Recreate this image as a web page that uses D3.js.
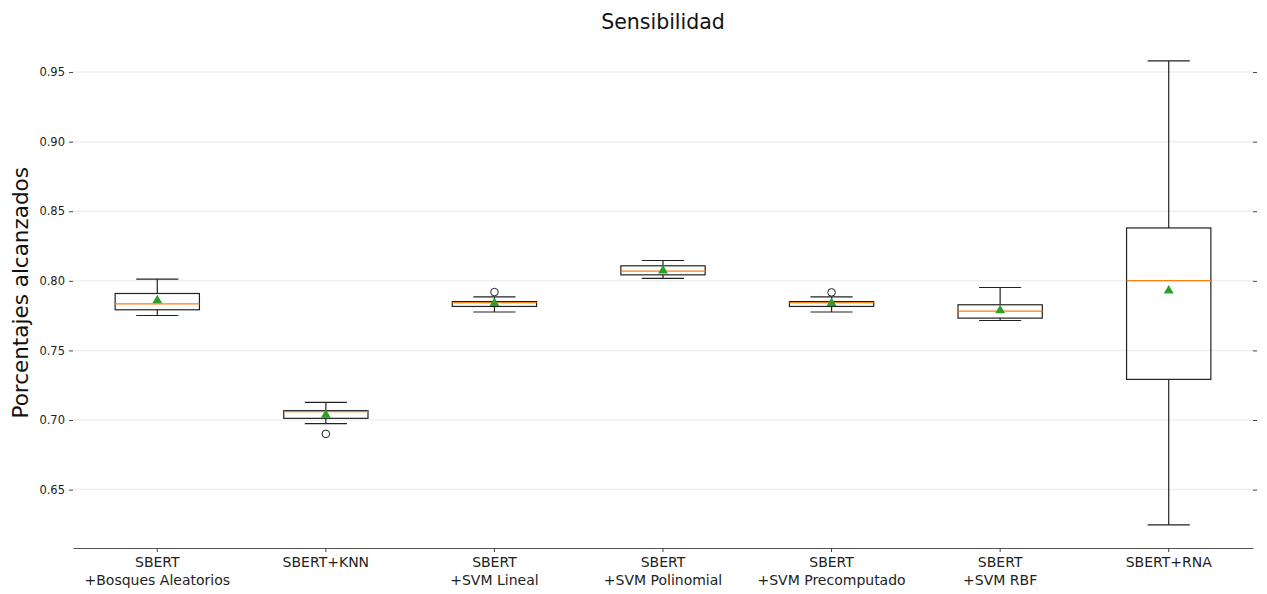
<!DOCTYPE html>
<html>
<head>
<meta charset="utf-8">
<script src="https://cdn.jsdelivr.net/npm/d3@7"></script>
<style>
  body { margin: 0; background: #ffffff; }
  svg, svg text { font-family: "DejaVu Sans", sans-serif; }
</style>
</head>
<body>
<div id="chart"></div>
<script>
// Sensibilidad boxplot, one box per model

var categories = [
    ["SBERT", "+Bosques Aleatorios"],
    ["SBERT+KNN"],
    ["SBERT", "+SVM Lineal"],
    ["SBERT", "+SVM Polinomial"],
    ["SBERT", "+SVM Precomputado"],
    ["SBERT", "+SVM RBF"],
    ["SBERT+RNA"]
];

var whiskerLow  = [0.7751, 0.6974, 0.7776, 0.8017, 0.7776, 0.7715, 0.6247];
var q1Values    = [0.7792, 0.7012, 0.7816, 0.8043, 0.7816, 0.7732, 0.7292];
var medians     = [0.7835, 0.7060, 0.7844, 0.8070, 0.7844, 0.7783, 0.8002];
var q3Values    = [0.7909, 0.7067, 0.7851, 0.8108, 0.7851, 0.7828, 0.8380];
var whiskerHigh = [0.8012, 0.7127, 0.7885, 0.8146, 0.7885, 0.7952, 0.9581];
var means       = [0.7859, 0.7036, 0.7840, 0.8074, 0.7840, 0.7787, 0.7930];
var outliers    = [[], [0.6900], [0.7919], [], [0.7917], [], []];

var yTicks = [0.65, 0.70, 0.75, 0.80, 0.85, 0.90, 0.95];

(function() {

    var width = 1267;
    var height = 594;

    var margin = { top: 37.6, right: 14, bottom: 46, left: 73 };

    var svg = d3.select("#chart")
        .append("svg")
        .attr("width", width)
        .attr("height", height);

    svg.append("rect")
        .attr("width", width)
        .attr("height", height)
        .attr("fill", "#ffffff");

    var plotBottom = height - margin.bottom;
    var plotRight = width - margin.right;

    var labels = categories.map(function(c) { return c.join(" "); });

    var xScale = d3.scaleBand()
        .domain(labels)
        .range([margin.left, plotRight])
        .padding(0);

    var yMin = d3.min(whiskerLow), yMax = d3.max(whiskerHigh);
    var pad = (yMax - yMin) * 0.05;

    var yScale = d3.scaleLinear()
        .domain([yMin - pad, yMax + pad])
        .range([plotBottom, margin.top]);

    // grid lines
    svg.selectAll(".grid")
        .data(yTicks)
        .enter()
        .append("line")
        .attr("x1", margin.left)
        .attr("x2", plotRight)
        .attr("y1", function(d) { return yScale(d); })
        .attr("y2", function(d) { return yScale(d); })
        .attr("stroke", "#efefef")
        .attr("stroke-width", 1.5);

    // left y axis (ticks + labels, no spine)
    var yAxis = svg.append("g")
        .attr("transform", "translate(" + margin.left + ",0)")
        .call(d3.axisLeft(yScale).tickValues(yTicks).tickFormat(d3.format(".2f")).tickSize(4).tickPadding(4));
    yAxis.attr("font-family", "DejaVu Sans");
    yAxis.select(".domain").remove();
    yAxis.selectAll(".tick line").attr("stroke", "#444");
    yAxis.selectAll("text").attr("font-size", "11.5px").attr("fill", "#222");

    // right ticks only
    var yAxisR = svg.append("g")
        .attr("transform", "translate(" + plotRight + ",0)")
        .call(d3.axisRight(yScale).tickValues(yTicks).tickSize(4).tickFormat(""));
    yAxisR.select(".domain").remove();
    yAxisR.selectAll(".tick line").attr("stroke", "#444");

    // x axis
    var xAxis = svg.append("g")
        .attr("transform", "translate(0," + plotBottom + ")")
        .call(d3.axisBottom(xScale).tickSize(4).tickSizeOuter(0).tickPadding(5.5));
    xAxis.attr("font-family", "DejaVu Sans");
    xAxis.select(".domain").attr("stroke", "#555").attr("stroke-width", 1.2);
    xAxis.selectAll(".tick line").attr("stroke", "#444");
    xAxis.selectAll(".tick text").each(function(d, i) {
        var t = d3.select(this).text("").attr("font-size", "14px").attr("fill", "#222");
        categories[i].forEach(function(line, j) {
            t.append("tspan")
                .attr("x", 0)
                .attr("dy", j === 0 ? "0.71em" : "1.26em")
                .text(line);
        });
    });

    var boxW = xScale.bandwidth() * 0.5;
    var capW = xScale.bandwidth() * 0.25;

    var boxes = svg.selectAll(".box")
        .data(labels)
        .enter()
        .append("g")
        .attr("class", "box")
        .attr("transform", function(d) {
            return "translate(" + (xScale(d) + xScale.bandwidth() / 2) + ",0)";
        });

    // whiskers
    boxes.append("line")
        .attr("y1", function(d, i) { return yScale(whiskerHigh[i]); })
        .attr("y2", function(d, i) { return yScale(q3Values[i]); })
        .attr("stroke", "#222").attr("stroke-width", 1.2);
    boxes.append("line")
        .attr("y1", function(d, i) { return yScale(whiskerLow[i]); })
        .attr("y2", function(d, i) { return yScale(q1Values[i]); })
        .attr("stroke", "#222").attr("stroke-width", 1.2);

    // caps
    boxes.append("line")
        .attr("x1", -capW / 2).attr("x2", capW / 2)
        .attr("y1", function(d, i) { return yScale(whiskerHigh[i]); })
        .attr("y2", function(d, i) { return yScale(whiskerHigh[i]); })
        .attr("stroke", "#222").attr("stroke-width", 1.2);
    boxes.append("line")
        .attr("x1", -capW / 2).attr("x2", capW / 2)
        .attr("y1", function(d, i) { return yScale(whiskerLow[i]); })
        .attr("y2", function(d, i) { return yScale(whiskerLow[i]); })
        .attr("stroke", "#222").attr("stroke-width", 1.2);

    // box
    boxes.append("rect")
        .attr("x", -boxW / 2)
        .attr("width", boxW)
        .attr("y", function(d, i) { return yScale(q3Values[i]); })
        .attr("height", function(d, i) { return yScale(q1Values[i]) - yScale(q3Values[i]); })
        .attr("fill", "none")
        .attr("stroke", "#222")
        .attr("stroke-width", 1.2);

    // median
    boxes.append("line")
        .attr("x1", -boxW / 2).attr("x2", boxW / 2)
        .attr("y1", function(d, i) { return yScale(medians[i]); })
        .attr("y2", function(d, i) { return yScale(medians[i]); })
        .attr("stroke", "#ff7f0e").attr("stroke-width", 1.3);

    // outliers
    boxes.each(function(d, i) {
        d3.select(this).selectAll(".flier")
            .data(outliers[i])
            .enter()
            .append("circle")
            .attr("cy", function(v) { return yScale(v); })
            .attr("r", 3.8)
            .attr("fill", "none")
            .attr("stroke", "#222")
            .attr("stroke-width", 1);
    });

    // mean markers
    boxes.append("path")
        .attr("d", d3.symbol().type(d3.symbolTriangle).size(42))
        .attr("transform", function(d, i) { return "translate(0," + yScale(means[i]) + ")"; })
        .attr("fill", "#2ca02c");

    // title
    svg.append("text")
        .attr("x", (margin.left + plotRight) / 2)
        .attr("y", 29)
        .attr("text-anchor", "middle")
        .attr("font-size", "20.5px")
        .attr("fill", "#111")
        .text("Sensibilidad");

    // y label
    svg.append("text")
        .attr("transform", "translate(28," + ((margin.top + plotBottom) / 2) + ") rotate(-90)")
        .attr("text-anchor", "middle")
        .attr("font-size", "21.5px")
        .attr("fill", "#111")
        .text("Porcentajes alcanzados");

})();
</script>
</body>
</html>
